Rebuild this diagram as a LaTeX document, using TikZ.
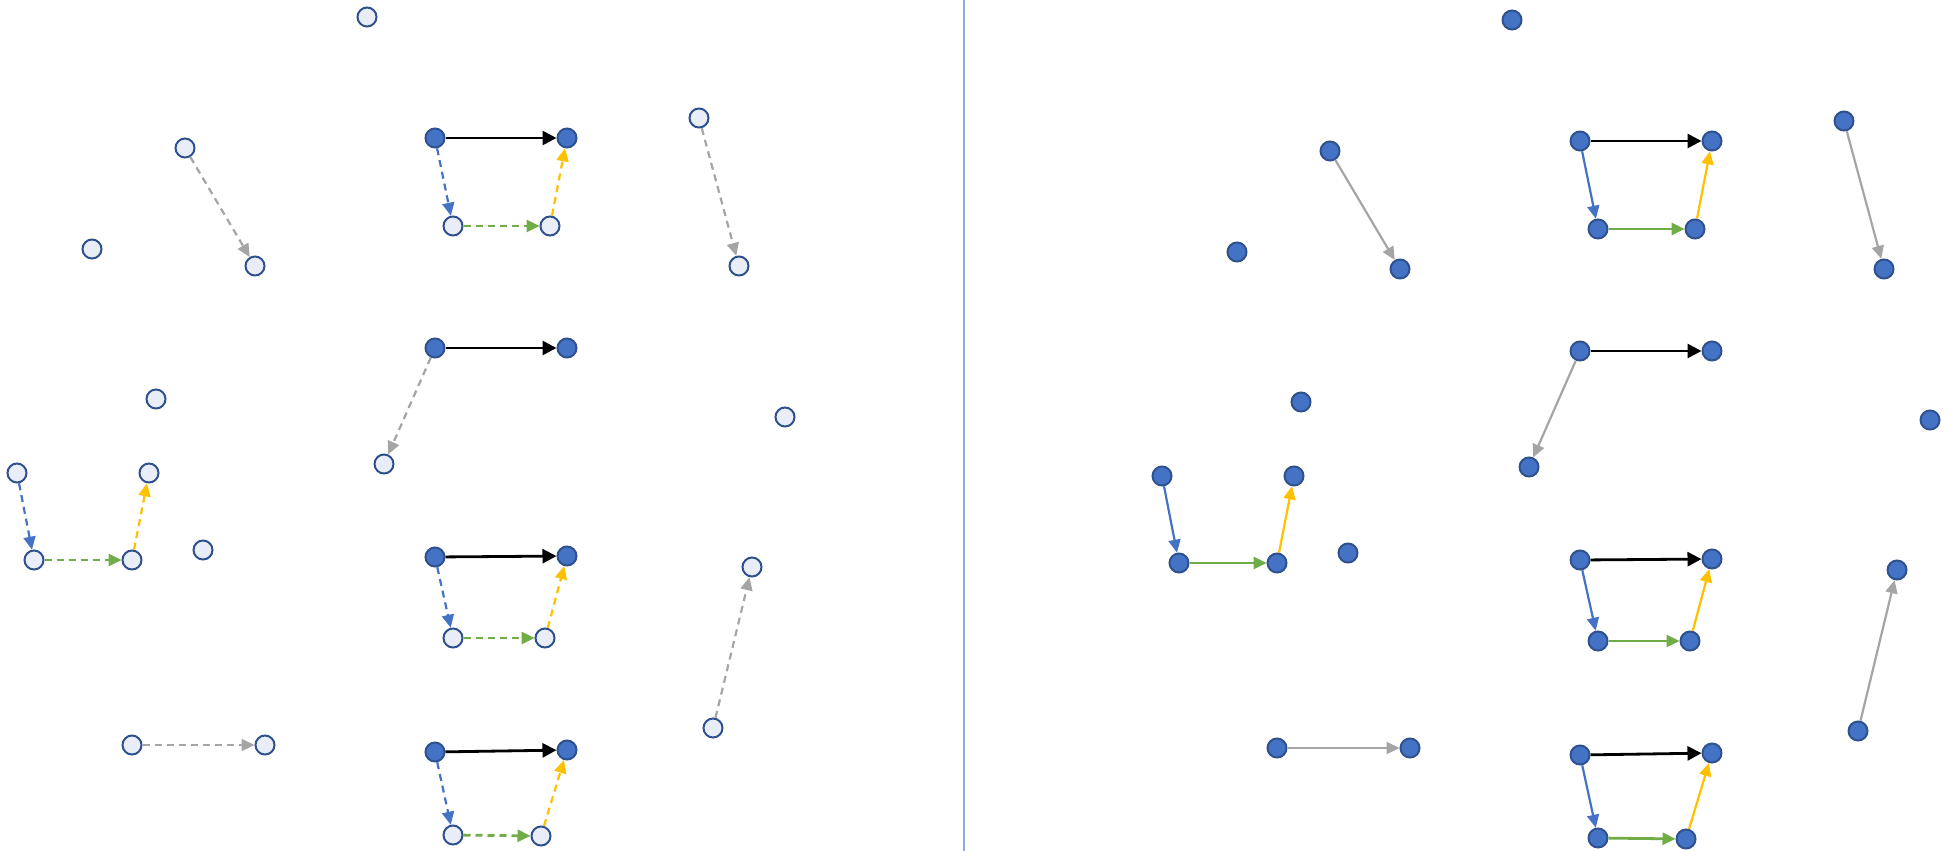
\documentclass[tikz,border=0pt]{standalone}
\usetikzlibrary{arrows.meta}
\definecolor{dotblue}{HTML}{4472C4}
\definecolor{rimblue}{HTML}{2F528F}
\definecolor{paleblue}{HTML}{E9EDF7}
\definecolor{stepgreen}{HTML}{70AD47}
\definecolor{stepgold}{HTML}{FFC000}
\definecolor{movegray}{HTML}{A5A5A5}
\definecolor{splitblue}{HTML}{8FAADC}

% одно поле: вершины и переходы, стили задаются снаружи
\newcommand{\fieldgraph}{
    \node[mypt] (top) at (367,17) {}; % одиночные вершины
    \node[mypt] (a) at (92,249) {};
    \node[mypt] (b) at (156,399) {};
    \node[mypt] (c) at (785,417) {};
    \node[mypt] (d) at (203,550) {};
    \node[mypt] (g1) at (185,148) {}; \node[mypt] (h1) at (255,266) {}; % серые пары
    \node[mypt] (g2) at (699,118) {}; \node[mypt] (h2) at (739,266) {};
    \node[mypt] (h3) at (384,464) {};
    \node[mypt] (g4) at (713,728) {}; \node[mypt] (h4) at (752,567) {};
    \node[mypt] (g5) at (132,745) {}; \node[mypt] (h5) at (265,745) {};
    \node[mypt] (s0) at (17,473) {}; \node[mypt] (t0) at (149,473) {}; % "корыто" слева
    \node[mypt] (p0) at (34,560) {}; \node[mypt] (q0) at (132,560) {};
    \node[mydot] (s1) at (435,138) {}; \node[mydot] (t1) at (567,138) {}; % квадраты
    \node[mypt] (p1) at (453,226) {}; \node[mypt] (q1) at (550,226) {};
    \node[mydot] (s2) at (435,348) {}; \node[mydot] (t2) at (567,348) {};
    \node[mydot] (s3) at (435,557) {}; \node[mydot] (t3) at (567,556) {};
    \node[mypt] (p3) at (453,638) {}; \node[mypt] (q3) at (545,638) {};
    \node[mydot] (s4) at (435,752) {}; \node[mydot] (t4) at (567,750) {};
    \node[mypt] (p4) at (453,835) {}; \node[mypt] (q4) at (541,836) {};
    \foreach \i in {1,2,3,4} \draw[mymain] (s\i) -- (t\i);
    \foreach \i in {0,1,3,4} {
        \draw[myarrow, dotblue] (s\i) -- (p\i);
        \draw[myarrow, stepgreen, line width=2.8pt] (p\i) -- (q\i);
        \draw[myarrow, stepgold] (q\i) -- (t\i);
    }
    \draw[myarrow, movegray] (g1) -- (h1);
    \draw[myarrow, movegray] (g2) -- (h2);
    \draw[myarrow, movegray] (s2) -- (h3);
    \draw[myarrow, movegray] (g4) -- (h4);
    \draw[myarrow, movegray] (g5) -- (h5);
}

\begin{document}
\begin{tikzpicture}[x=1pt,y=-1pt]
\tikzstyle{mydot} = [circle, minimum size=19pt, inner sep=0pt, line width=2pt, draw=rimblue, fill=dotblue] % закрашенная вершина
\tikzstyle{myring} = [mydot, fill=paleblue] % пустая вершина
\tikzstyle{myarrow} = [line width=2.2pt, mylook, -{Triangle[length=13pt,width=12pt]}] % переход
\tikzstyle{mymain} = [line width=2.8pt, black, -{Triangle[length=14pt,width=14pt]}] % основная стрелка

\useasboundingbox (0,0) rectangle (1951,851);
\coordinate (split top) at (964,0);
\coordinate (split bottom) at (964,851);
\draw[line width=1.5pt, splitblue] (split top) -- (split bottom); % разделитель

\begin{scope}[name prefix=l-, mypt/.style=myring, mylook/.style={dash pattern=on 7pt off 5pt}]
    \fieldgraph
\end{scope}
\begin{scope}[name prefix=r-, xshift=1145pt, yshift=-3pt, mypt/.style=mydot, mylook/.style={}]
    \fieldgraph
\end{scope}
\end{tikzpicture}
\end{document}
